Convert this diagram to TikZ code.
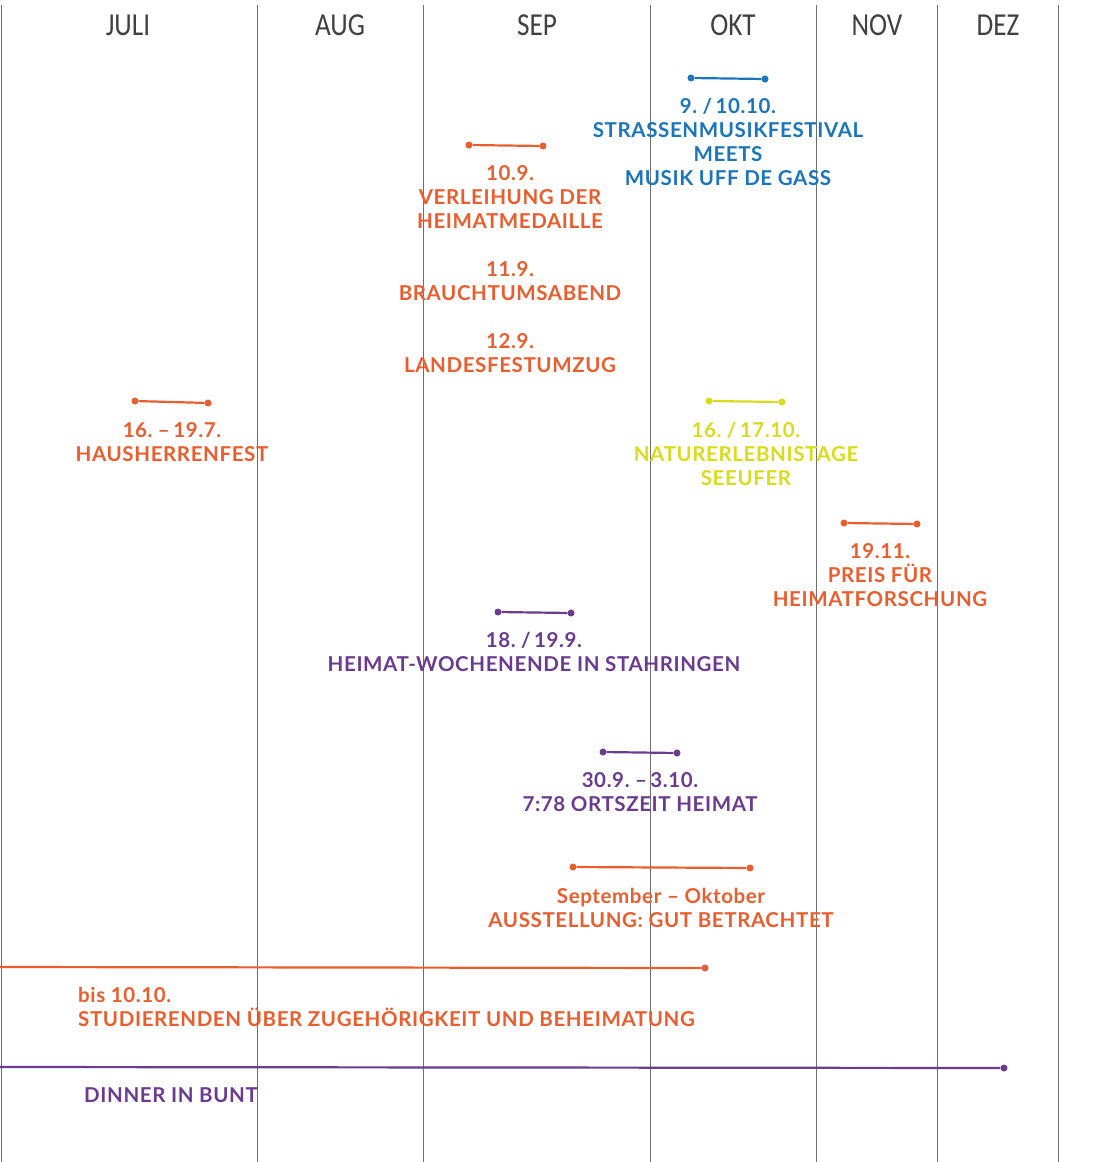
\documentclass[tikz,border=0pt]{standalone}
\usepackage{fontspec}
\setmainfont{Lato}[LetterSpace=3]
\newfontfamily\monthfont{Carlito}[FakeStretch=0.85]
\newcommand\tightsp{\spaceskip=3.5pt\relax}
\definecolor{cOr}{RGB}{233,94,46}
\definecolor{cBl}{RGB}{27,117,187}
\definecolor{cYe}{RGB}{217,220,28}
\definecolor{cPu}{RGB}{106,59,143}
\definecolor{cGr}{RGB}{110,110,110}
\begin{document}
\begin{tikzpicture}[x=1pt,y=-1pt,
  grid/.style={draw=cGr,line width=0.7pt},
  month/.style={font=\monthfont\fontsize{32}{34}\selectfont,text=black!75,anchor=center,inner sep=0pt},
  ev/.style={font=\bfseries\fontsize{20.5}{24}\selectfont,anchor=base,inner sep=0pt},
  date/.style={ev,font=\bfseries\fontsize{20.5}{24}\selectfont\tightsp},
  dot/.style={circle,fill,inner sep=0pt,minimum size=7pt},
  bar/.style={line width=2.2pt}]
\useasboundingbox[fill=white] (0,0) rectangle (1095,1162);
% grid
\foreach \x/\n in {1/g0,257/g1,423/g2,650/g3,816/g4,937/g5,1058/g6}{
  \coordinate (\n t) at (\x,5); \coordinate (\n b) at (\x,1162);
  \draw[grid] (\n t) -- (\n b);}
% months
\node[month] (mJ) at (128,25) {JULI};
\node[month] (mA) at (340,25) {AUG};
\node[month] (mS) at (537,25) {SEP};
\node[month] (mO) at (733,25) {OKT};
\node[month] (mN) at (877,25) {NOV};
\node[month] (mD) at (998,25) {DEZ};
% 1 blue
\node[dot,cBl] (b1a) at (691,78) {}; \node[dot,cBl] (b1b) at (765,79) {};
\draw[bar,cBl] (b1a) -- (b1b);
\node[date,text=cBl] (t1a) at (728,113) {9. / 10.10.};
\node[ev,text=cBl] (t1b) at (728,137) {STRASSENMUSIKFESTIVAL};
\node[ev,text=cBl] (t1c) at (728,161) {MEETS};
\node[ev,text=cBl] (t1d) at (728,185) {MUSIK UFF DE GASS};
% 2 orange
\node[dot,cOr] (o2a) at (469,145) {}; \node[dot,cOr] (o2b) at (543,146) {};
\draw[bar,cOr] (o2a) -- (o2b);
\node[date,text=cOr] (t2a) at (510,180) {10.9.};
\node[ev,text=cOr] (t2b) at (510,204) {VERLEIHUNG DER};
\node[ev,text=cOr] (t2c) at (510,228) {HEIMATMEDAILLE};
\node[date,text=cOr] (t2d) at (510,276) {11.9.};
\node[ev,text=cOr] (t2e) at (510,300) {BRAUCHTUMSABEND};
\node[date,text=cOr] (t2f) at (510,348) {12.9.};
\node[ev,text=cOr] (t2g) at (510,372) {LANDESFESTUMZUG};
% 3 orange
\node[dot,cOr] (o3a) at (135,401) {}; \node[dot,cOr] (o3b) at (208,403) {};
\draw[bar,cOr] (o3a) -- (o3b);
\node[date,text=cOr] (t3a) at (172,437) {16. – 19.7.};
\node[ev,text=cOr] (t3b) at (172,461) {HAUSHERRENFEST};
% 4 yellow
\node[dot,cYe] (y4a) at (709,401) {}; \node[dot,cYe] (y4b) at (782,402) {};
\draw[bar,cYe] (y4a) -- (y4b);
\node[date,text=cYe] (t4a) at (746,437) {16. / 17.10.};
\node[ev,text=cYe] (t4b) at (746,461) {NATURERLEBNISTAGE};
\node[ev,text=cYe] (t4c) at (746,485) {SEEUFER};
% 5 orange
\node[dot,cOr] (o5a) at (844,523) {}; \node[dot,cOr] (o5b) at (917,524) {};
\draw[bar,cOr] (o5a) -- (o5b);
\node[date,text=cOr] (t5a) at (880,558) {19.11.};
\node[ev,text=cOr] (t5b) at (880,582) {PREIS FÜR};
\node[ev,text=cOr] (t5c) at (880,606) {HEIMATFORSCHUNG};
% 6 purple
\node[dot,cPu] (p6a) at (498,612) {}; \node[dot,cPu] (p6b) at (571,613) {};
\draw[bar,cPu] (p6a) -- (p6b);
\node[date,text=cPu] (t6a) at (534,647) {18. / 19.9.};
\node[ev,text=cPu] (t6b) at (534,671) {HEIMAT-WOCHENENDE IN STAHRINGEN};
% 7 purple
\node[dot,cPu] (p7a) at (603,752) {}; \node[dot,cPu] (p7b) at (677,753) {};
\draw[bar,cPu] (p7a) -- (p7b);
\node[date,text=cPu] (t7a) at (640,787) {30.9. – 3.10.};
\node[ev,text=cPu] (t7b) at (640,811) {7:78 ORTSZEIT HEIMAT};
% 8 orange
\node[dot,cOr] (o8a) at (573,867) {}; \node[dot,cOr] (o8b) at (750,868) {};
\draw[bar,cOr] (o8a) -- (o8b);
\node[ev,text=cOr] (t8a) at (661,903) {September – Oktober};
\node[ev,text=cOr] (t8b) at (661,927) {AUSSTELLUNG: GUT BETRACHTET};
% 9 orange
\coordinate (o9a) at (0,967); \node[dot,cOr] (o9b) at (705,968) {};
\draw[bar,cOr] (o9a) -- (o9b);
\node[ev,text=cOr,anchor=base west] (t9a) at (78,1002) {bis 10.10.};
\node[ev,text=cOr,anchor=base west] (t9b) at (78,1026) {STUDIERENDEN ÜBER ZUGEHÖRIGKEIT UND BEHEIMATUNG};
% 10 purple
\coordinate (p10a) at (0,1067); \node[dot,cPu] (p10b) at (1004,1068) {};
\draw[bar,cPu] (p10a) -- (p10b);
\node[ev,text=cPu,anchor=base west] (t10a) at (84,1102) {DINNER IN BUNT};
\end{tikzpicture}
\end{document}
